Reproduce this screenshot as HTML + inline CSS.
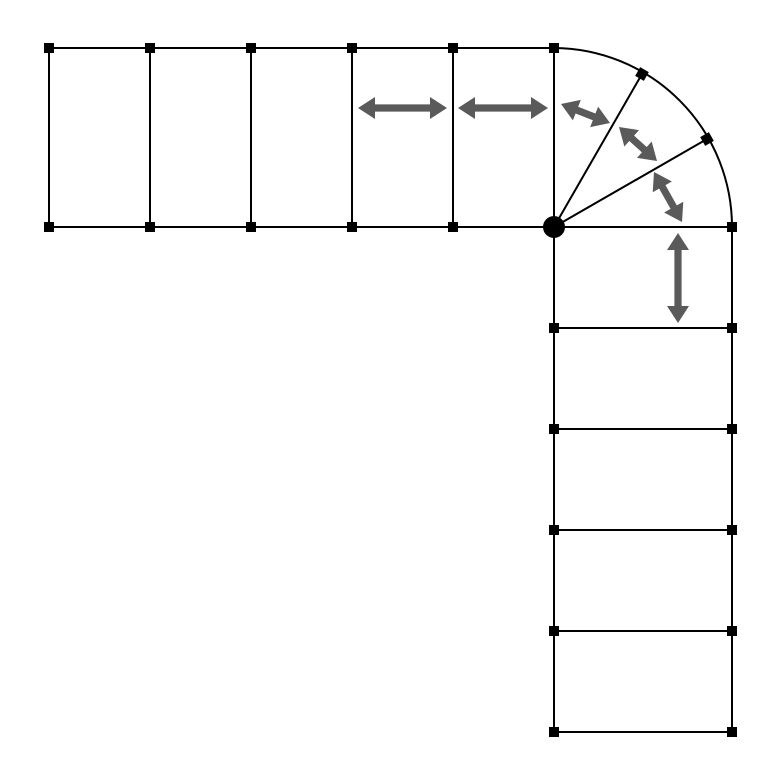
<!DOCTYPE html>
<html><head><meta charset="utf-8"><style>html,body{margin:0;padding:0;background:#fff}svg{display:block}</style></head>
<body>
<svg id="s" width="776" height="768" viewBox="0 0 776 768"></svg>
<script>
const topXs=[49,150,251,352,453,554];
const rowYs=[48,227];
const colXs=[554,732];
const sideYs=[227,328,429,530,631,732];
const arcPts=[[642,74],[707,139]];
const arrows=[[358,108,447,108],[458,108,548,108],[561,104,610,123],[619,127,657,161],[654,172,682,222],[678,233,678,323]];
const NS="http://www.w3.org/2000/svg",s=document.getElementById('s');
function mk(t,a){const e=document.createElementNS(NS,t);for(const k in a)e.setAttribute(k,a[k]);s.appendChild(e);return e;}
function line(x1,y1,x2,y2,n){const e=mk('line',{x1,y1,x2,y2,stroke:'#000','stroke-width':2});

}
line(49,48,554,48,'top-edge');line(49,227,732,227,'middle-edge');
topXs.forEach((x,i)=>line(x,48,x,227,'vertical-divider-'+i));
line(554,227,554,732,'left-side-edge');line(732,227,732,732,'right-side-edge');
sideYs.forEach((y,i)=>line(554,y,732,y,'horizontal-divider-'+i));
arcPts.forEach((p,i)=>line(554,227,p[0],p[1],'radial-line-'+i));
const arc=mk('path',{d:'M554 48 A179 179 0 0 1 732 227',fill:'none',stroke:'#000','stroke-width':2});


function node(x,y,n,ang){const r=mk('rect',{x:x-5,y:y-5,width:10,height:10,fill:'#000',transform:`rotate(${ang||0} ${x} ${y})`});

}
topXs.forEach((x,i)=>{node(x,48,'node-top-'+i);if(i<5)node(x,227,'node-mid-'+i);});
sideYs.forEach((y,i)=>node(732,y,'node-right-'+i));
sideYs.slice(1).forEach((y,i)=>node(554,y,'node-left-'+i));
arcPts.forEach((p,i)=>node(p[0],p[1],'node-arc-'+i,Math.atan2(p[1]-227,p[0]-554)*180/Math.PI));
const c=mk('circle',{cx:554,cy:227,r:11,fill:'#000'});


arrows.forEach((a,i)=>{const [x1,y1,x2,y2]=a,dx=x2-x1,dy=y2-y1,L=Math.hypot(dx,dy),ux=dx/L,uy=dy/L,px=-uy,py=ux;
const hl=Math.min(17,L*0.36),hw=Math.min(11,L*0.22),sw=3.6;
const P=(t,w)=>[x1+ux*t+px*w,y1+uy*t+py*w];
const pts=[P(0,0),P(hl,hw),P(hl,sw),P(L-hl,sw),P(L-hl,hw),P(L,0),P(L-hl,-hw),P(L-hl,-sw),P(hl,-sw),P(hl,-hw)];
const e=mk('polygon',{points:pts.map(p=>p.join(',')).join(' '),fill:'#5a5a5a'});

});
</script>
</body></html>
